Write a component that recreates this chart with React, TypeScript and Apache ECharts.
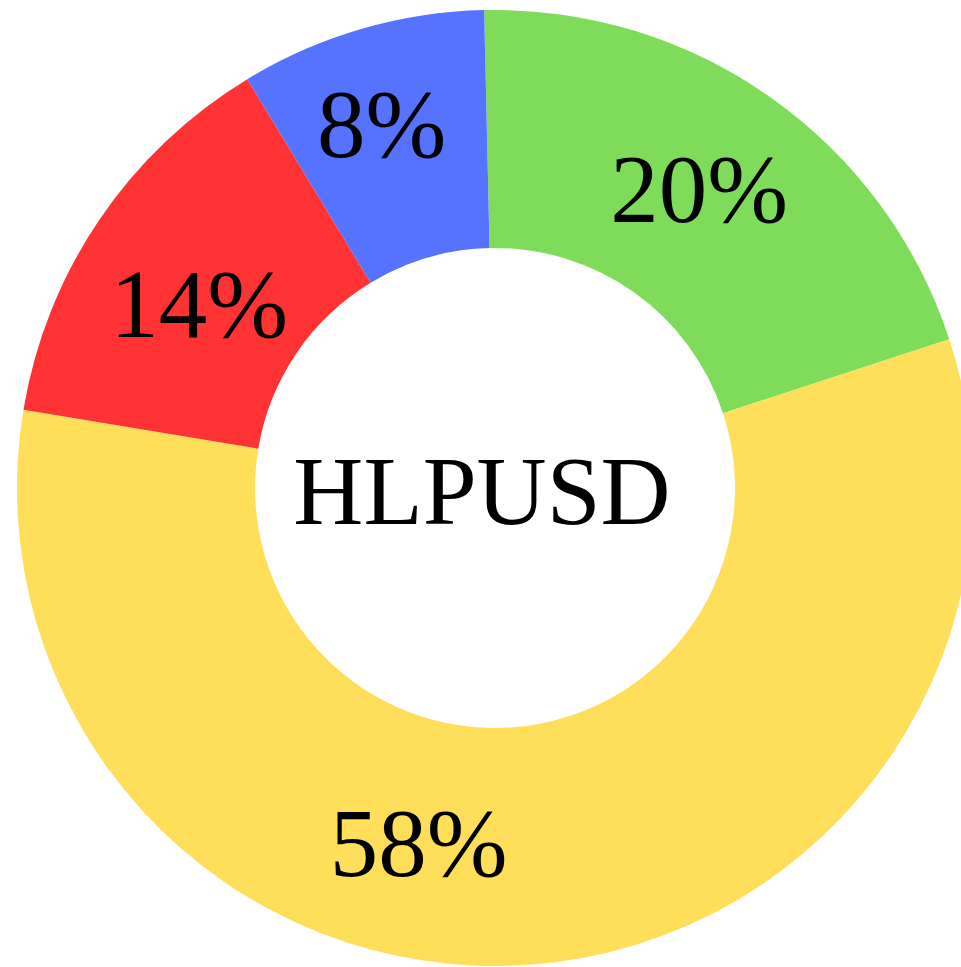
import React, { useEffect, useRef } from "react";
import * as echarts from "echarts";

const categories = ["Green", "Yellow", "Red", "Blue"];
const values = [20.3, 57.6, 13.7, 8.3];
const colors = ["#7fdc5a", "#ffde5a", "#ff3333", "#5573ff"];
const centerLabel = "HLPUSD";

// label nudges (px) per slice index, to match reference placement
const labelShift = [
  { dx: -5, dy: -3 },
  { dx: -104, dy: -5 },
  { dx: 4, dy: 19 },
  { dx: -12, dy: -16 },
];

export default function App() {
  const ref = useRef<HTMLDivElement>(null);
  useEffect(() => {
    document.body.style.margin = "0";
    const chart = echarts.init(ref.current!, undefined, { renderer: "svg" });
    const font = '"Liberation Serif", "Times New Roman", serif';
    chart.setOption({
      animation: false,
      backgroundColor: "#ffffff",
      graphic: [
        {
          type: "text",
          x: 482,
          y: 491,
          style: {
            text: centerLabel,
            fontSize: 97,
            fontFamily: font,
            fill: "#000",
            align: "center",
            verticalAlign: "middle",
          },
        },
      ],
      series: [
        {
          type: "pie",
          center: [495, 488],
          radius: [240, 478],
          startAngle: 91.3,
          clockwise: true,
          avoidLabelOverlap: false,
          itemStyle: { borderWidth: 0 },
          label: {
            show: true,
            position: "inside",
            formatter: (p: any) => Math.round(p.value) + "%",
            fontSize: 97,
            fontFamily: font,
            color: "#000",
          },
          labelLine: { show: false },
          labelLayout: (p: any) => labelShift[p.dataIndex],
          emphasis: { disabled: true },
          data: categories.map((c, i) => ({
            name: c,
            value: values[i],
            itemStyle: { color: colors[i] },
          })),
        },
      ],
    });
    return () => chart.dispose();
  }, []);
  return (
    <div
      ref={ref}
      style={{ position: "fixed", left: 0, top: 0, width: 961, height: 967 }}
    />
  );
}
